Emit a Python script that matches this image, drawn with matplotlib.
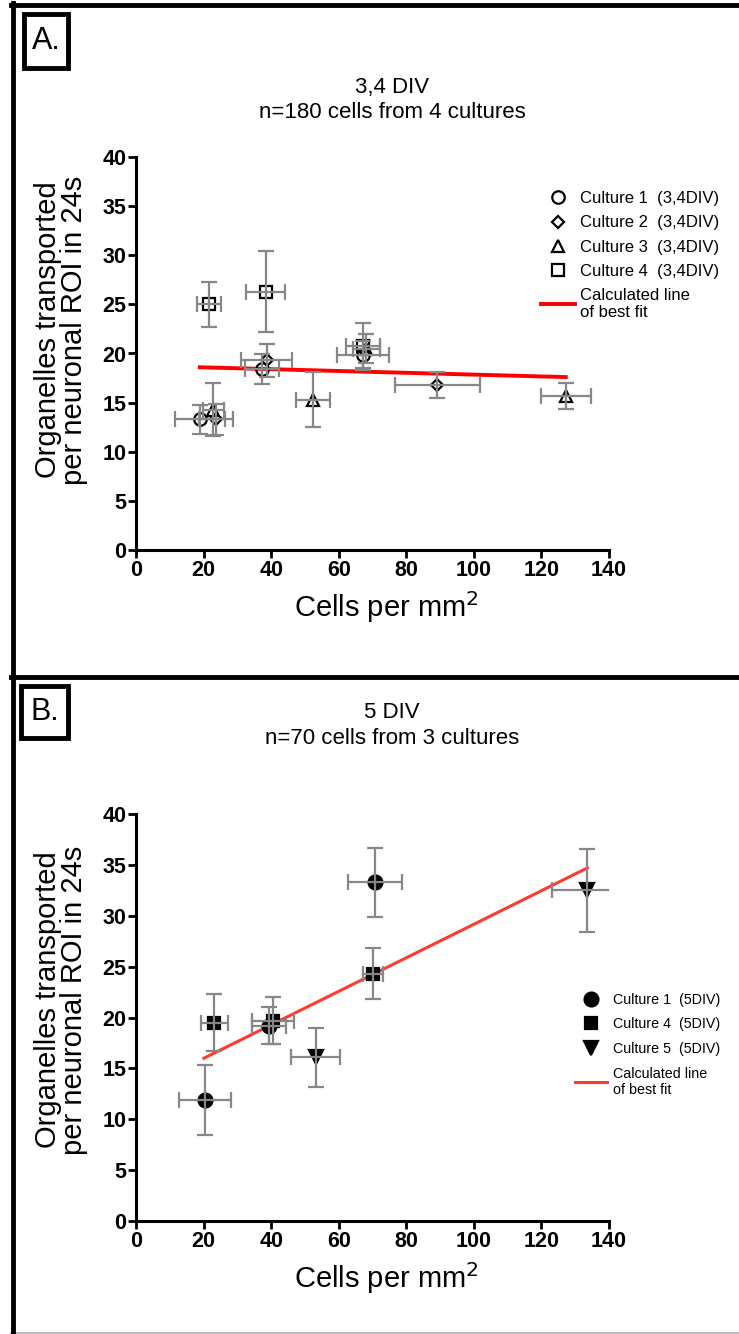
import matplotlib
matplotlib.use("Agg")
import matplotlib.pyplot as plt
from matplotlib.lines import Line2D
from matplotlib.patches import Rectangle

plt.rcParams['font.family'] = ['Liberation Sans', 'DejaVu Sans']

# Panel A (3,4 DIV) - open markers
a_c1_x = [18.9, 37.2, 67.3]
a_c1_y = [13.3, 18.4, 19.8]
a_c1_xe = [7.4, 5.0, 7.7]
a_c1_ye = [1.5, 1.5, 1.5]

a_c2_x = [23.7, 38.7, 89.2]
a_c2_y = [13.3, 19.3, 16.8]
a_c2_xe = [5.0, 7.5, 12.5]
a_c2_ye = [1.6, 1.7, 1.35]

a_c3_x = [22.9, 52.3, 68.2, 127.2]
a_c3_y = [14.3, 15.3, 20.5, 15.7]
a_c3_xe = [3.0, 5.0, 4.0, 7.4]
a_c3_ye = [2.7, 2.8, 1.5, 1.3]

a_c4_x = [21.6, 38.4, 67.3]
a_c4_y = [25.0, 26.3, 20.8]
a_c4_xe = [3.6, 5.8, 5.0]
a_c4_ye = [2.3, 4.15, 2.3]

a_fit_x = [18.9, 127.2]
a_fit_y = [18.6, 17.6]

# Panel B (5 DIV) - filled markers
b_c1_x = [20.4, 39.4, 70.7]
b_c1_y = [11.9, 19.2, 33.3]
b_c1_xe = [7.6, 5.0, 7.9]
b_c1_ye = [3.4, 1.8, 3.4]

b_c4_x = [23.1, 40.6, 70.2]
b_c4_y = [19.5, 19.7, 24.3]
b_c4_xe = [4.0, 6.2, 3.0]
b_c4_ye = [2.8, 2.3, 2.5]

b_c5_x = [53.2, 133.4]
b_c5_y = [16.1, 32.5]
b_c5_xe = [7.3, 10.4]
b_c5_ye = [2.9, 4.05]

b_fit_x = [20.1, 133.6]
b_fit_y = [16.0, 34.7]

ticks_x = [0, 20, 40, 60, 80, 100, 120, 140]
ticks_y = [0, 5, 10, 15, 20, 25, 30, 35, 40]

W, H = 739, 1334
fig = plt.figure(figsize=(W / 100, H / 100), dpi=100)

ERR = '#878787'


def style_axes(ax):
    ax.set_xlim(0, 140)
    ax.set_ylim(0, 40)
    ax.set_xticks(ticks_x)
    ax.set_yticks(ticks_y)
    for s in ['top', 'right']:
        ax.spines[s].set_visible(False)
    for s in ['left', 'bottom']:
        ax.spines[s].set_linewidth(2.2)
    ax.tick_params(direction='out', length=6, width=2, labelsize=15.5, pad=1)
    for lab in ax.get_xticklabels() + ax.get_yticklabels():
        lab.set_fontweight('bold')


def draw(ax, x, y, xe, ye, marker, ms, fill, label):
    ax.plot(x, y, linestyle='none', marker=marker, ms=ms,
            mfc='black' if fill else 'none', mec='black', mew=1.6,
            label=label, zorder=3)
    ax.errorbar(x, y, xerr=xe, yerr=ye, fmt='none', ecolor=ERR,
                elinewidth=1.6, capsize=5.5, capthick=1.6, zorder=4)


def frac(px, py):
    return px / W, 1 - py / H


# ---- Panel A
axA = fig.add_axes([136 / W, 1 - 550 / H, 473 / W, 393 / H])
style_axes(axA)
draw(axA, a_c1_x, a_c1_y, a_c1_xe, a_c1_ye, 'o', 9, False, 'Culture 1  (3,4DIV)')
draw(axA, a_c2_x, a_c2_y, a_c2_xe, a_c2_ye, 'D', 6.5, False, 'Culture 2  (3,4DIV)')
draw(axA, a_c3_x, a_c3_y, a_c3_xe, a_c3_ye, '^', 9, False, 'Culture 3  (3,4DIV)')
draw(axA, a_c4_x, a_c4_y, a_c4_xe, a_c4_ye, 's', 9, False, 'Culture 4  (3,4DIV)')
axA.plot(a_fit_x, a_fit_y, color='#ff0000', lw=2.8, zorder=2,
         label='Calculated line\nof best fit')
axA.legend(loc='upper left', bbox_to_anchor=(0.843, 0.93), frameon=False,
           fontsize=12, handlelength=2.0, handletextpad=0.3,
           labelspacing=0.55, borderaxespad=0)

# ---- Panel B
axB = fig.add_axes([136 / W, 1 - 1221 / H, 473 / W, 407 / H])
style_axes(axB)
draw(axB, b_c1_x, b_c1_y, b_c1_xe, b_c1_ye, 'o', 10, True, 'Culture 1  (5DIV)')
draw(axB, b_c4_x, b_c4_y, b_c4_xe, b_c4_ye, 's', 9, True, 'Culture 4  (5DIV)')
draw(axB, b_c5_x, b_c5_y, b_c5_xe, b_c5_ye, 'v', 10, True, 'Culture 5  (5DIV)')
axB.plot(b_fit_x, b_fit_y, color='#ff3b30', lw=2.2, zorder=2,
         label='Calculated line\nof best fit')
axB.legend(loc='upper left', bbox_to_anchor=(0.917, 0.575), frameon=False,
           fontsize=10.3, handlelength=2.2, handletextpad=0.4,
           labelspacing=0.75, borderaxespad=0)

# titles and axis labels
for ax, t1, t2, ty1, ty2, xly, yly in [
        (axA, '3,4 DIV', 'n=180 cells from 4 cultures', 88, 112, 607, 330),
        (axB, '5 DIV', 'n=70 cells from 3 cultures', 712, 738, 1278, 1000)]:
    fig.text(*frac(392, ty1), t1, ha='center', va='center', fontsize=16)
    fig.text(*frac(392, ty2), t2, ha='center', va='center', fontsize=16)
    fig.text(*frac(386, xly), 'Cells per mm$^2$', ha='center', va='center',
             fontsize=21)
    fig.text(*frac(61, yly), 'Organelles transported\nper neuronal ROI in 24s',
             ha='center', va='center', rotation=90, fontsize=21,
             linespacing=0.92)

# panel letter boxes
for x0, y0, x1, y1, letter in [(24, 14, 68, 68, 'A.'), (21, 686, 68, 738, 'B.')]:
    fx0, fy1 = frac(x0, y0)
    fx1, fy0 = frac(x1, y1)
    fig.add_artist(Rectangle((fx0, fy0), fx1 - fx0, fy1 - fy0,
                             transform=fig.transFigure, fill=False,
                             edgecolor='black', lw=3.5))
    fig.text((fx0 + fx1) / 2, (fy0 + fy1) / 2, letter, ha='center',
             va='center', fontsize=22)

# outer frame lines
def hline(y, x0, x1, color='black', lw=3.5):
    fig.add_artist(Line2D([x0 / W, x1 / W], [1 - y / H, 1 - y / H],
                          transform=fig.transFigure, color=color, lw=lw))

hline(4.5, 11, W)
hline(677, 11, W)
hline(1332.5, 11, W, color='#bbbbbb', lw=1.5)
fig.add_artist(Line2D([13 / W, 13 / W], [1 - 3 / H, 0],
                      transform=fig.transFigure, color='black', lw=3.5))

fig.savefig('out.png', dpi=100, facecolor='white')
